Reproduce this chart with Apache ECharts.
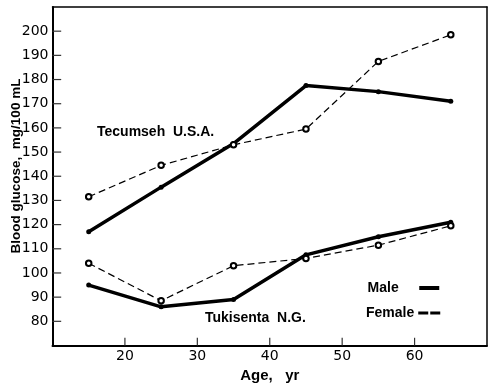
<!DOCTYPE html>
<html>
<head>
<meta charset="utf-8">
<script src="https://cdn.jsdelivr.net/npm/echarts@6/dist/echarts.min.js"></script>
<style>html,body{margin:0;padding:0;background:#fff}#c{width:500px;height:385px}</style>
</head>
<body>
<div id="c"></div>
<script>
var ages = [15, 25, 35, 45, 55, 65];
var tecumsehMale   = [117, 135.5, 153.5, 177.5, 175, 171];
var tecumsehFemale = [131.5, 144.5, 153, 159.5, 187.5, 198.5];
var tukisentaMale   = [95, 86, 89, 107.5, 115, 121];
var tukisentaFemale = [104, 88.5, 103, 106, 111.5, 119.5];
var xTicks = [20, 30, 40, 50, 60];
var yTicks = [80, 90, 100, 110, 120, 130, 140, 150, 160, 170, 180, 190, 200];
var X_MIN = 10, X_MAX = 70, Y_MIN = 70, Y_MAX = 210;

function pairs(vals){ return ages.map(function(a,i){ return [a, vals[i]]; }); }

var FONT = '"DejaVu Sans", sans-serif';
var BFONT = '"Liberation Sans", Arial, sans-serif';

function maleSeries(vals){
  return {name:'Male', type:'line', data:pairs(vals), symbol:'circle', symbolSize:5, showSymbol:true,
    lineStyle:{color:'#000', width:3.5}, itemStyle:{color:'#000'}, z:3};
}
function femaleSeries(vals){
  return {name:'Female', type:'line', data:pairs(vals), symbol:'emptyCircle', symbolSize:5.5, showSymbol:true,
    lineStyle:{color:'#000', width:1.2, type:[7,4]},
    itemStyle:{color:'#000', borderColor:'#000', borderWidth:0.8},
    emphasis:{disabled:true}, z:4};
}
var frameAxis = {show:true, axisLine:{show:true, lineStyle:{color:'#000', width:1.5}},
  axisTick:{show:false}, axisLabel:{show:false}, splitLine:{show:false}};

function tickLines(){
  var out = [];
  yTicks.forEach(function(v){
    out.push({name:'ytick', type:'line', silent:true, symbol:'none', clip:false, z:6,
      data:[[X_MIN, v], [X_MIN + 1.2, v]], lineStyle:{color:'#333', width:1.2}});
  });
  xTicks.forEach(function(v){
    out.push({name:'xtick', type:'line', silent:true, symbol:'none', clip:false, z:6,
      data:[[v, Y_MIN], [v, Y_MIN + 3.2]], lineStyle:{color:'#333', width:1.2}});
  });
  return out;
}

var chart = echarts.init(document.getElementById('c'), null, {renderer:'canvas'});
chart.setOption({
  animation:false,
  backgroundColor:'#fff',
  grid:{left:52.5, right:13, top:7, bottom:39.5, outerBoundsMode:'none', containLabel:false, show:false},
  xAxis:[{type:'value', min:X_MIN, max:X_MAX, interval:10, position:'bottom',
    name:'Age,   yr', nameLocation:'middle', nameGap:19,
    nameTextStyle:{fontFamily:BFONT, fontWeight:'bold', fontSize:15, color:'#000'},
    axisLine:{show:true, onZero:false, lineStyle:{color:'#000', width:2}},
    axisTick:{show:false},
    axisLabel:{show:true, margin:4, showMinLabel:false, showMaxLabel:false, fontFamily:FONT, fontSize:14, color:'#000'},
    splitLine:{show:false}},
    Object.assign({type:'value', min:X_MIN, max:X_MAX, position:'top'}, frameAxis)],
  yAxis:[{type:'value', min:Y_MIN, max:Y_MAX, interval:10, position:'left',
    axisLine:{show:true, onZero:false, lineStyle:{color:'#000', width:2}},
    axisTick:{show:false},
    axisLabel:{show:true, margin:4, showMinLabel:false, showMaxLabel:false, fontFamily:FONT, fontSize:14, color:'#000'},
    splitLine:{show:false}},
    Object.assign({type:'value', min:Y_MIN, max:Y_MAX, position:'right'}, frameAxis)],
  legend:{orient:'vertical', left:361, top:276, itemGap:11, align:'right',
    itemWidth:20, itemHeight:4, selectedMode:false,
    textStyle:{fontFamily:BFONT, fontWeight:'bold', fontSize:14, color:'#000'},
    formatter:function(n){ return n === 'Male' ? 'Male    ' : n; },
    data:[
      {name:'Male', icon:'path://M0,0L20,0L20,4L0,4Z'},
      {name:'Female', icon:'path://M0,0M20,4M0,1.6L8,1.6L8,2.6L0,2.6Z M12,1.6L20,1.6L20,2.6L12,2.6Z'}
    ]},
  graphic:[
    {type:'text', x:16, y:166, rotation:Math.PI/2,
      style:{text:'Blood glucose,  mg/100 mL', fontFamily:BFONT, fontWeight:'bold', fontSize:13.5, fill:'#000', align:'center', verticalAlign:'middle'}},
    {type:'text', left:97, top:125, style:{text:'Tecumseh  U.S.A.', fontFamily:BFONT, fontWeight:'bold', fontSize:14, fill:'#000'}},
    {type:'text', left:205, top:311, style:{text:'Tukisenta  N.G.', fontFamily:BFONT, fontWeight:'bold', fontSize:14, fill:'#000'}}
  ],
  series:[maleSeries(tecumsehMale), femaleSeries(tecumsehFemale), maleSeries(tukisentaMale), femaleSeries(tukisentaFemale)].concat(tickLines())
});
</script>
</body>
</html>
